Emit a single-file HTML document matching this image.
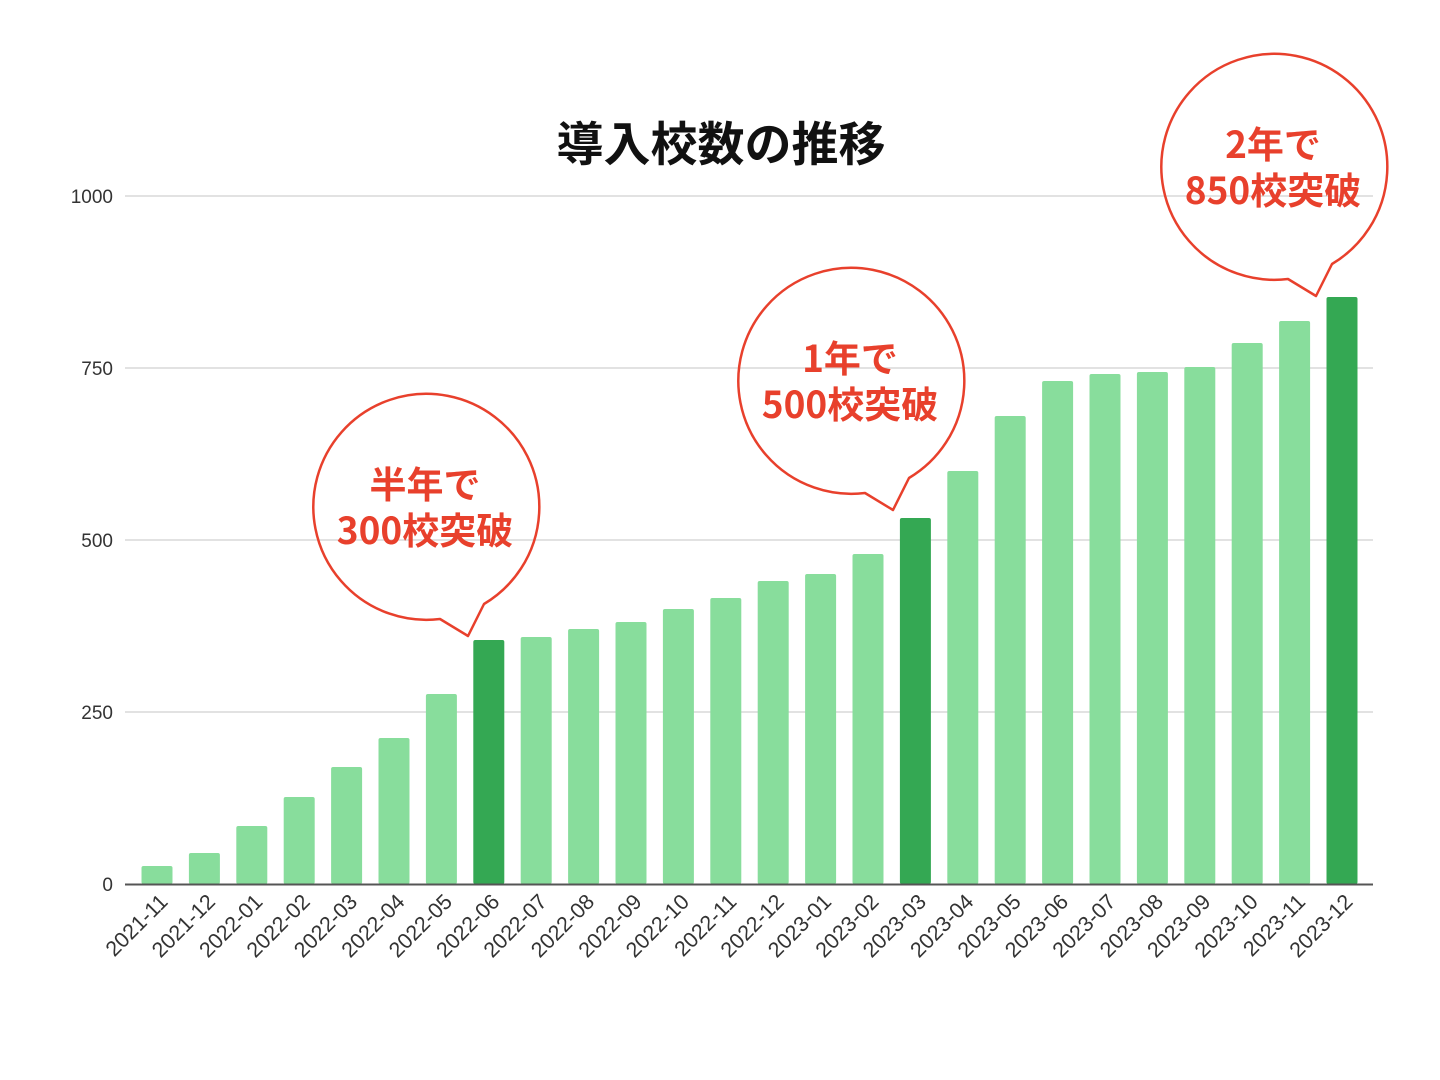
<!DOCTYPE html>
<html><head><meta charset="utf-8"><style>
html,body{margin:0;padding:0;background:#fff;}
svg{display:block;}
</style></head><body>
<svg width="1440" height="1080" viewBox="0 0 1440 1080" xmlns="http://www.w3.org/2000/svg" font-family="'Liberation Sans','Noto Sans CJK JP',sans-serif">
<rect width="1440" height="1080" fill="#fff"/>
<text x="721" y="161" text-anchor="middle" font-size="47" font-weight="bold" fill="#111" font-family="'Noto Sans CJK JP',sans-serif">導入校数の推移</text>
<g stroke="#d9d9d9" stroke-width="1.5">
<line x1="125" y1="196" x2="1373" y2="196"/>
<line x1="125" y1="368" x2="1373" y2="368"/>
<line x1="125" y1="540" x2="1373" y2="540"/>
<line x1="125" y1="712" x2="1373" y2="712"/>
</g>
<g font-size="19" fill="#333" text-anchor="end">
<text x="113" y="203">1000</text>
<text x="113" y="375">750</text>
<text x="113" y="547">500</text>
<text x="113" y="719">250</text>
<text x="113" y="891">0</text>
</g>
<g id="bars"></g>
<line x1="125" y1="884.5" x2="1373" y2="884.5" stroke="#555" stroke-width="2"/>
<g id="labels" font-size="21.5" fill="#333"></g>
<g fill="none" stroke="#e8402c" stroke-width="2.5" stroke-linejoin="round">
<path d="M484,604 A113 113 0 1 0 440,619 L468,636 Z"/>
<path d="M909,478 A113 113 0 1 0 865,493 L893,510 Z"/>
<path d="M1332,264 A113 113 0 1 0 1288,279 L1316,296 Z"/>
</g>
<g fill="#e8402c" font-size="37" font-weight="bold" text-anchor="middle" font-family="'Noto Sans CJK JP',sans-serif">
<text x="425" y="498">半年で</text><text x="425" y="544">300校突破</text>
<text x="850" y="372">1年で</text><text x="850" y="418">500校突破</text>
<text x="1273" y="158">2年で</text><text x="1273" y="204">850校突破</text>
</g>
<script>
var tops=[866,853,826,797,767,738,694,640,637,629,622,609,598,581,574,554,518,471,416,381,374,372,367,343,321,297];
var labels=["2021-11","2021-12","2022-01","2022-02","2022-03","2022-04","2022-05","2022-06","2022-07","2022-08","2022-09","2022-10","2022-11","2022-12","2023-01","2023-02","2023-03","2023-04","2023-05","2023-06","2023-07","2023-08","2023-09","2023-10","2023-11","2023-12"];
var dark={7:1,16:1,25:1};
var ns="http://www.w3.org/2000/svg",b=document.getElementById("bars"),l=document.getElementById("labels");
for(var i=0;i<26;i++){var cx=157+i*47.4;
var r=document.createElementNS(ns,"rect");r.setAttribute("x",cx-15.5);r.setAttribute("y",tops[i]);r.setAttribute("width",31);r.setAttribute("height",884-tops[i]);r.setAttribute("rx",2);r.setAttribute("fill",dark[i]?"#34a853":"#88dd9c");b.appendChild(r);
var t=document.createElementNS(ns,"text");t.setAttribute("text-anchor","end");t.setAttribute("transform","translate("+(cx+12)+",903) rotate(-45)");t.textContent=labels[i];l.appendChild(t);}
</script>
</svg>
</body></html>
